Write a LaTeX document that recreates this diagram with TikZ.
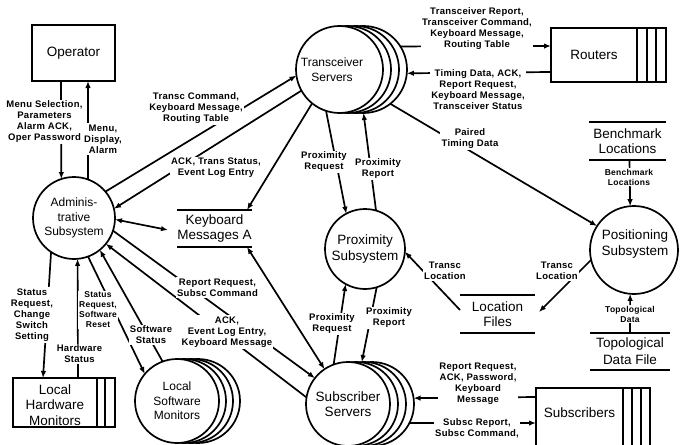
\documentclass[tikz,border=0pt]{standalone}
\usepackage{fontspec}
\setmainfont{Liberation Sans}
\newfontfamily\lblfont[LetterSpace=3]{Liberation Sans}
\usetikzlibrary{arrows.meta}

\begin{document}
\begin{tikzpicture}[x=1pt, y=-1pt,
  every node/.style={inner sep=0pt, outer sep=0pt},
  ln/.style={line width=1.7pt},
  flow/.style={ln, -{Latex[length=7pt,width=5.5pt]}},
  twoway/.style={ln, {Latex[length=7pt,width=5.5pt]}-{Latex[length=7pt,width=5.5pt]}},
  proc/.style={circle, draw, ln, fill=white, align=center, font=\fontsize{13.5}{15.5}\selectfont},
  procsm/.style={proc, font=\fontsize{12}{14.5}\selectfont},
  ent/.style={rectangle, draw, ln, fill=white, align=center, font=\fontsize{13.5}{15.5}\selectfont},
  caption/.style={align=center, font=\fontsize{13.5}{15.5}\selectfont},
  store/.style={align=center, font=\fontsize{13.5}{15.5}\selectfont},
  lbl/.style={fill=white, inner sep=1.2pt, align=center, font=\lblfont\bfseries\fontsize{9.5}{11}\selectfont},
  lblsm/.style={lbl, font=\lblfont\bfseries\fontsize{8.5}{10}\selectfont},
]
\fill[white] (0,0) rectangle (687,444);
\useasboundingbox (0,0) rectangle (687,444);
\clip (0,0) rectangle (687,444);

% ---------- external entities ----------
\node[ent, minimum width=83pt, minimum height=56pt] (op) at (73.5,53) {Operator};

\node[ent, minimum width=115pt, minimum height=54pt] (routers) at (608.5,55) {};
\node[caption] (routersname) at (594,55) {Routers};
\foreach \d in {10,19,29}
  \draw[ln] ([xshift=-\d pt]routers.north east) -- ([xshift=-\d pt]routers.south east);

\node[ent, minimum width=102pt, minimum height=49pt] (hw) at (64,402.5) {};
\node[caption] (hwname) at (55,405) {Local\\Hardware\\Monitors};
\foreach \d in {10,18}
  \draw[ln] ([xshift=-\d pt]hw.north east) -- ([xshift=-\d pt]hw.south east);

\node[ent, minimum width=114pt, minimum height=68pt] (subs) at (593,422) {};
\node[caption] (subsname) at (579.5,413) {Subscribers};
\foreach \d in {9,18,27}
  \draw[ln] ([xshift=-\d pt]subs.north east) -- ([xshift=-\d pt]subs.south east);

% ---------- processes ----------
\node[procsm, minimum size=82pt] (admin) at (74,218) {Adminis-\\trative\\Subsystem};

\foreach \i/\dx in {3/24,2/16,1/8}
  \node[proc, minimum size=87pt] (trans\i) at (339.5+\dx,69.5) {};
\node[proc, minimum size=87pt] (trans) at (339.5,69.5) {};
\node[caption, font=\fontsize{12}{15}\selectfont] (transname) at (332,70) {Transceiver\\Servers};

\node[proc, minimum size=80pt] (prox) at (365,249) {Proximity\\Subsystem};

\node[proc, minimum size=88pt] (pos) at (634,250) {};
\node[caption] (posname) at (635,244) {Positioning\\Subsystem};

\foreach \i/\dx in {3/21,2/14,1/7}
  \node[proc, minimum size=84pt] (sw\i) at (177+\dx,401) {};
\node[procsm, minimum size=84pt] (sw) at (177,401) {Local\\Software\\Monitors};

\foreach \i/\dx in {3/24,2/16,1/8}
  \node[proc, minimum size=84pt] (sub\i) at (348+\dx,404) {};
\node[proc, minimum size=84pt] (sub) at (348,404) {Subscriber\\Servers};

% ---------- data stores ----------
\node[store, minimum width=75pt, minimum height=37pt] (kbd) at (214.5,228.5) {Keyboard\\Messages A};
\node[store, minimum width=77pt, minimum height=38pt] (bench) at (627.5,141) {Benchmark\\Locations};
\node[store, minimum width=75pt, minimum height=38pt] (loc) at (497.5,314) {Location\\Files};
\node[store, minimum width=80pt, minimum height=37pt, font=\fontsize{13.5}{17}\selectfont] (topo) at (630,351.5) {Topological\\Data File};
\foreach \s in {kbd,bench,loc,topo}
  \draw[ln] (\s.north west) -- (\s.north east) (\s.south west) -- (\s.south east);

% ---------- data flows ----------
\draw[flow] ([xshift=-12.5pt]op.south) -- (admin.108.5);
\draw[flow] (admin.70) -- ([xshift=14.5pt]op.south);
\draw[flow] (admin.40) -- (trans.188);
\draw[flow] (trans.209) -- (admin.13);
\draw[flow] (trans.231) -- ([xshift=-5pt]kbd.north east);
\draw[twoway] (admin.358) -- ([xshift=-9pt,yshift=-1.5pt]kbd.west);
\draw[flow] (admin.342) -- (sub.142);
\draw[flow] (sub.171) -- (admin.321.5);
\draw[twoway] ([xshift=-5pt]kbd.south east) -- (sub.124);
\draw[flow] (admin.236) -- ([xshift=30pt]hw.north west);
\draw[flow] ([xshift=65pt]hw.north west) -- (admin.275.6);
\draw[flow] (admin.290) -- (sw.140);
\draw[flow] (sw.110) -- (admin.309);
\draw[flow] (trans.252) -- (prox.118);
\draw[flow] (prox.74) -- (trans3.270);
\draw[flow] (sub.110) -- (prox.241);
\draw[flow] (prox.287) -- (sub2.93);
\draw[flow] ([yshift=4pt]loc.west) -- (prox.356);
\draw[flow] (pos.193) -- ([xshift=4pt,yshift=2pt]loc.east);
\draw[flow] (trans3.308.5) -- (pos.147);
\draw[flow] ([xshift=2pt]bench.south) -- (pos.95);
\draw[flow] (topo.north) -- (pos.265);
\draw[flow] ([yshift=-9pt]subs.north west) -- (sub3.8);
\draw[flow] (sub3.333) -- ([yshift=-35pt]subs.north west);
\draw[flow] (trans3.32) -- ([yshift=9pt]routers.west);
\draw[flow] ([yshift=-17pt]routers.west) -- (trans3.355);

% ---------- flow labels ----------
\node[lbl] (lmenusel) at (44.5,122) {Menu Selection,\\Parameters\\Alarm ACK,\\Oper Password};
\node[lbl] (lmenu) at (103,139) {Menu,\\Display,\\Alarm};
\node[lbl] (ltcmd) at (196,108) {Transc Command,\\Keyboard Message,\\Routing Table};
\node[lbl] (lack) at (216,168) {ACK, Trans Status,\\Event Log Entry};
\node[lbl] (lrpt) at (217.5,287.5) {Report Request,\\Subsc Command};
\node[lbl] (lackev) at (227,332) {ACK,\\Event Log Entry,\\Keyboard Message};
\node[lbl] (lssr) at (32,315) {Status\\Request,\\Change\\Switch\\Setting};
\node[lbl] (lhws) at (79.5,354) {Hardware\\Status};
\node[lblsm] (lswr) at (98,310) {Status\\Request,\\Software\\Reset};
\node[lbl] (lsws) at (151,335) {Software\\Status};
\node[lbl] (lpreqa) at (324,162) {Proximity\\Request};
\node[lbl] (lprepa) at (378,169) {Proximity\\Report};
\node[lbl] (lpreqb) at (332,324) {Proximity\\Request};
\node[lbl] (lprepb) at (389,318) {Proximity\\Report};
\node[lbl] (ltla) at (445,271) {Transc\\Location};
\node[lbl] (ltlb) at (557,271) {Transc\\Location};
\node[lbl] (lptd) at (470,139) {Paired\\Timing Data};
\node[lblsm] (lbl) at (629,177) {Benchmark\\Locations};
\node[lblsm] (ltd) at (630,314) {Topological\\Data};
\node[lbl] (ltr) at (477,29) {Transceiver Report,\\Transceiver Command,\\Keyboard Message,\\Routing Table};
\node[lbl] (ltda) at (478,90) {Timing Data, ACK,\\Report Request,\\Keyboard Message,\\Transceiver Status};
\node[lbl] (lsrr) at (478,384) {Report Request,\\ACK, Password,\\Keyboard\\Message};
\node[lbl] (lssc) at (477,428) {Subsc Report,\\Subsc Command,};
\end{tikzpicture}
\end{document}
